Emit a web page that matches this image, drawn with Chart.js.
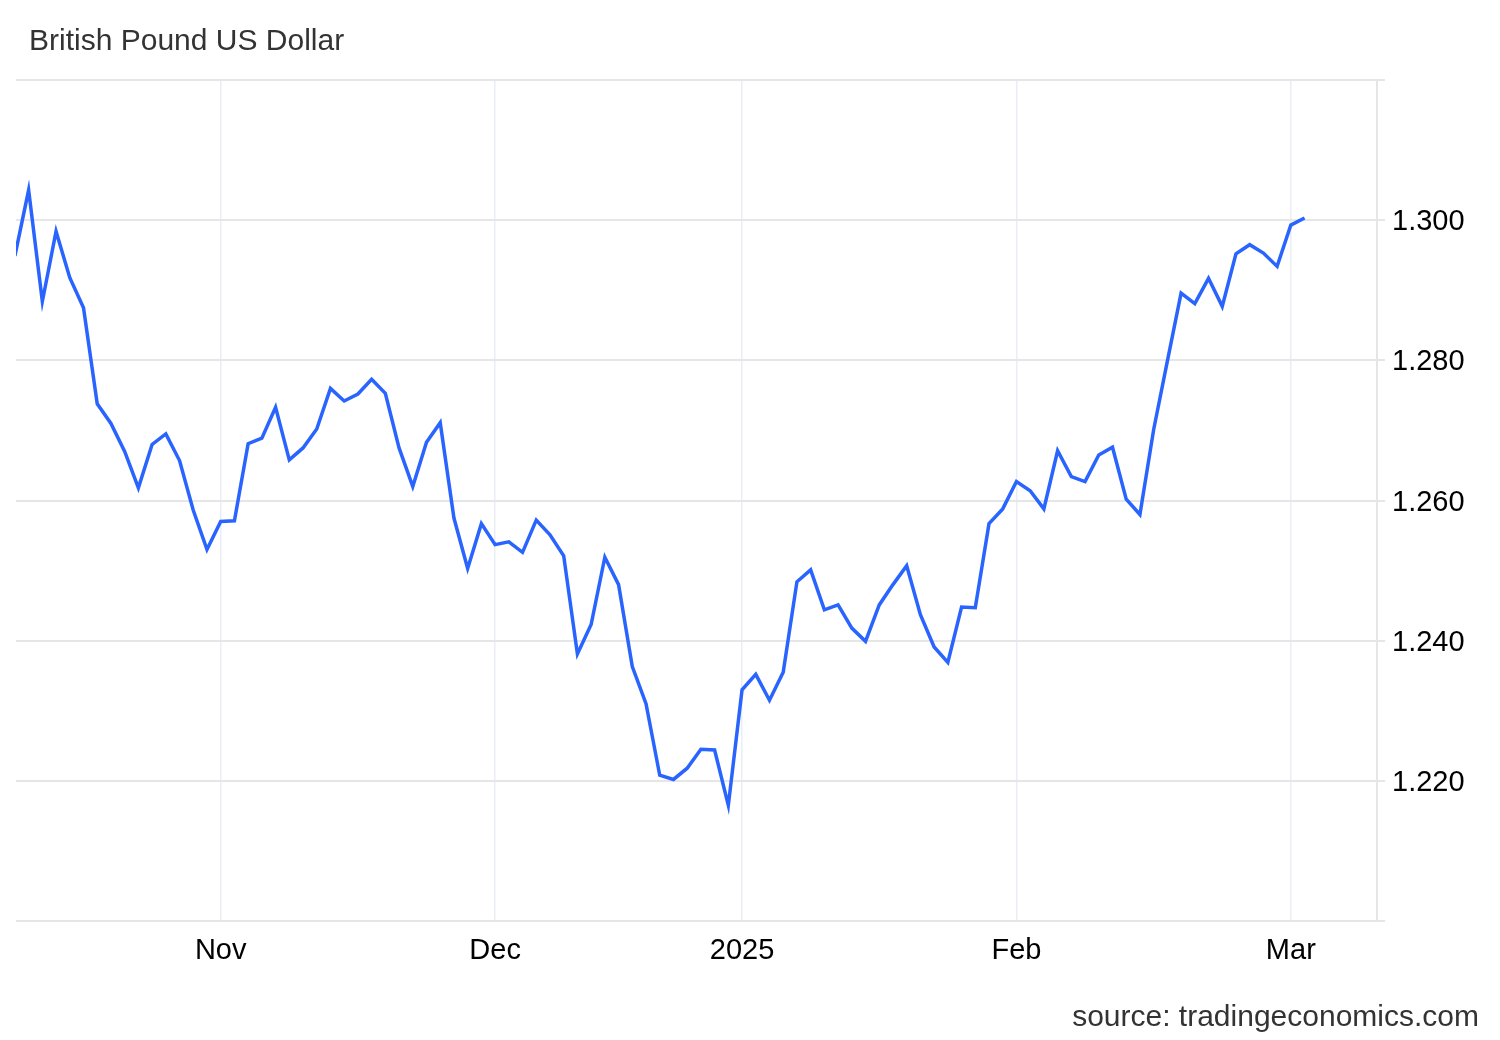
<!DOCTYPE html>
<html>
<head>
<meta charset="utf-8">
<script src="https://cdn.jsdelivr.net/npm/chart.js@4/dist/chart.umd.min.js"></script>
<style>
  body { margin: 0; background: #fff; }
  #wrap { position: relative; width: 1500px; height: 1040px; }
  .txt { position: absolute; font-family: "Liberation Sans", Arial, sans-serif; font-size: 30px; line-height: 30px; color: #333; white-space: nowrap; }
  #title { left: 29px; top: 25px; }
  #source { right: 21px; top: 1001px; }
</style>
</head>
<body>
<div id="wrap">
  <canvas id="myChart" width="1500" height="1040"></canvas>
  <div class="txt" id="title">British Pound US Dollar</div>
  <div class="txt" id="source">source: tradingeconomics.com</div>
</div>
<script>
// GBP/USD closing rate, one value per trading session (index = session number)
const rate = [
  1.2949, 1.3043, 1.2884, 1.2984, 1.2918, 1.2875, 1.2738, 1.2710, 1.2670, 1.2618,
  1.2680, 1.2695, 1.2657, 1.2586, 1.2530, 1.2570, 1.2571, 1.2681, 1.2689, 1.2733,
  1.2658, 1.2675, 1.2702, 1.2760, 1.2742, 1.2752, 1.2773, 1.2753, 1.2675, 1.2620,
  1.2683, 1.2711, 1.2575, 1.2503, 1.2567, 1.2537, 1.2541, 1.2526, 1.2572, 1.2551,
  1.2521, 1.2381, 1.2423, 1.2519, 1.2480, 1.2363, 1.2310, 1.2208, 1.2202, 1.2218,
  1.2245, 1.2244, 1.2165, 1.2330, 1.2352, 1.2315, 1.2355, 1.2484, 1.2501, 1.2444,
  1.2451, 1.2418, 1.2399, 1.2451, 1.2480, 1.2507, 1.2437, 1.2391, 1.2369, 1.2448,
  1.2447, 1.2567, 1.2588, 1.2627, 1.2614, 1.2588, 1.2671, 1.2634, 1.2627, 1.2665,
  1.2676, 1.2602, 1.2580, 1.2701, 1.2799, 1.2896, 1.2881, 1.2917, 1.2877, 1.2952,
  1.2965, 1.2953, 1.2934, 1.2993, 1.3003
];
const sessions = rate.map((_, i) => i);

// month labels sit on the first session of each month
const xTickIndex = [15, 35, 53, 73, 93];
const xTickLabels = ['Nov', 'Dec', '2025', 'Feb', 'Mar'];

const yTicks = [1.20, 1.22, 1.24, 1.26, 1.28, 1.30, 1.32];
const yTickLabels = ['', '1.220', '1.240', '1.260', '1.280', '1.300', ''];

const tickFont = { family: '"Liberation Sans", Arial, sans-serif', size: 29 };

const ctx = document.getElementById('myChart').getContext('2d');
const myChart = new Chart(ctx, {
  type: 'line',
  data: {
    labels: sessions,
    datasets: [{
      label: 'GBPUSD',
      data: rate,
      borderColor: '#2a64ff',
      borderWidth: 3.5,
      pointRadius: 0,
      tension: 0,
      fill: false
    }]
  },
  options: {
    responsive: false,
    animation: false,
    layout: { padding: { left: 16, top: 80, right: 0, bottom: 0 } },
    plugins: {
      legend: { display: false },
      tooltip: { enabled: false }
    },
    scales: {
      x: {
        type: 'linear',
        min: 0.08,
        max: 99.28,
        afterBuildTicks: axis => { axis.ticks = xTickIndex.map(v => ({ value: v })); },
        afterFit: axis => { axis.height = 119; },
        grid: { color: '#e9eef4', lineWidth: 1.5, drawTicks: false },
        border: { display: false },
        ticks: {
          color: '#000',
          font: tickFont,
          padding: 13,
          maxRotation: 0,
          autoSkip: false,
          callback: (v) => xTickLabels[xTickIndex.indexOf(v)]
        }
      },
      y: {
        position: 'right',
        min: 1.20,
        max: 1.32,
        afterBuildTicks: axis => { axis.ticks = yTicks.map(v => ({ value: v })); },
        afterFit: axis => { axis.width = 123; },
        grid: { color: '#e6e6e6', lineWidth: 2, tickLength: 8 },
        border: { display: true, color: '#e6e6e6', width: 2 },
        ticks: {
          color: '#000',
          font: tickFont,
          padding: 7,
          labelOffset: 2,
          callback: (v, i) => yTickLabels[i]
        }
      }
    }
  }
});
</script>
</body>
</html>
